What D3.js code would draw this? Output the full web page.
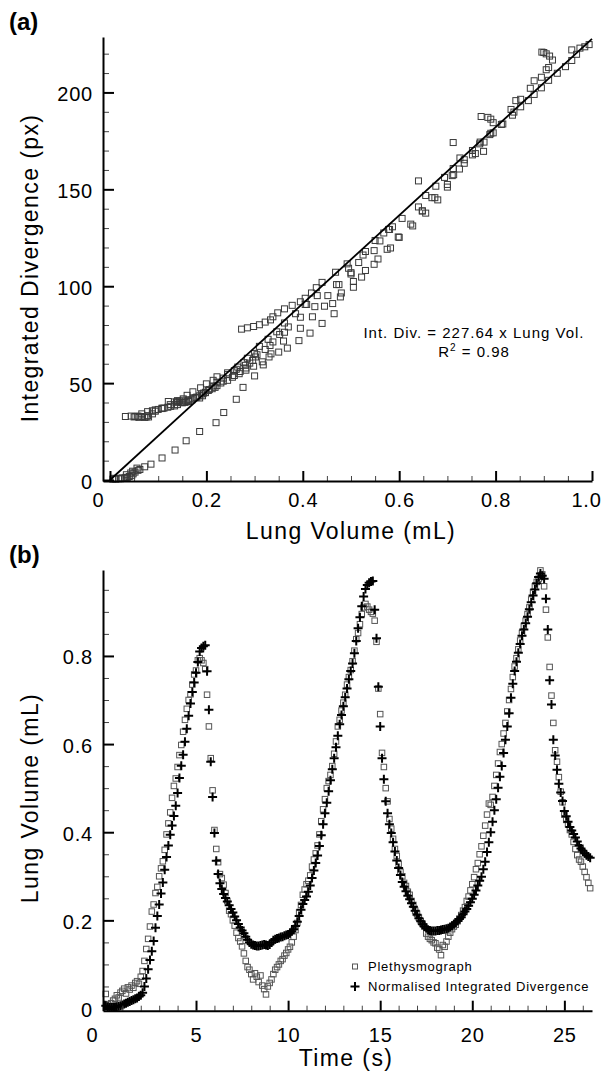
<!DOCTYPE html>
<html>
<head>
<meta charset="utf-8">
<script src="https://cdn.jsdelivr.net/npm/d3@7"></script>
<style>
  body { margin: 0; background: #fff; }
  svg { display: block; font-family: "Liberation Sans", Arial, Helvetica, sans-serif; }
</style>
</head>
<body>
<svg id="chart" width="602" height="1080"></svg>
<script>
// sample times (s), one row per second
const time = [
  0.1,0.2,0.3,0.4,0.5,0.6,0.7,0.8,0.9,1.0,
  1.1,1.2,1.3,1.4,1.5,1.6,1.7,1.8,1.9,2.0,
  2.1,2.2,2.3,2.4,2.5,2.6,2.7,2.8,2.9,3.0,
  3.1,3.2,3.3,3.4,3.5,3.6,3.7,3.8,3.9,4.0,
  4.1,4.2,4.3,4.4,4.5,4.6,4.7,4.8,4.9,5.0,
  5.1,5.2,5.3,5.4,5.5,5.6,5.7,5.8,5.9,6.0,
  6.1,6.2,6.3,6.4,6.5,6.6,6.7,6.8,6.9,7.0,
  7.1,7.2,7.3,7.4,7.5,7.6,7.7,7.8,7.9,8.0,
  8.1,8.2,8.3,8.4,8.5,8.6,8.7,8.8,8.9,9.0,
  9.1,9.2,9.3,9.4,9.5,9.6,9.7,9.8,9.9,10.0,
  10.1,10.2,10.3,10.4,10.5,10.6,10.7,10.8,10.9,11.0,
  11.1,11.2,11.3,11.4,11.5,11.6,11.7,11.8,11.9,12.0,
  12.1,12.2,12.3,12.4,12.5,12.6,12.7,12.8,12.9,13.0,
  13.1,13.2,13.3,13.4,13.5,13.6,13.7,13.8,13.9,14.0,
  14.1,14.2,14.3,14.4,14.5,14.6,14.7,14.8,14.9,15.0,
  15.1,15.2,15.3,15.4,15.5,15.6,15.7,15.8,15.9,16.0,
  16.1,16.2,16.3,16.4,16.5,16.6,16.7,16.8,16.9,17.0,
  17.1,17.2,17.3,17.4,17.5,17.6,17.7,17.8,17.9,18.0,
  18.1,18.2,18.3,18.4,18.5,18.6,18.7,18.8,18.9,19.0,
  19.1,19.2,19.3,19.4,19.5,19.6,19.7,19.8,19.9,20.0,
  20.1,20.2,20.3,20.4,20.5,20.6,20.7,20.8,20.9,21.0,
  21.1,21.2,21.3,21.4,21.5,21.6,21.7,21.8,21.9,22.0,
  22.1,22.2,22.3,22.4,22.5,22.6,22.7,22.8,22.9,23.0,
  23.1,23.2,23.3,23.4,23.5,23.6,23.7,23.8,23.9,24.0,
  24.1,24.2,24.3,24.4,24.5,24.6,24.7,24.8,24.9,25.0,
  25.1,25.2,25.3,25.4,25.5,25.6,25.7,25.8,25.9,26.0,
  26.1,26.2,26.3,26.4
]

// lung volume from the plethysmograph (mL)
const plethysmograph = [
  .033,.010,.006,.012,.018,.022,.030,.025,.036,.040,
  .045,.034,.048,.043,.052,.047,.058,.062,.056,.072,
  .085,.108,.135,.158,.186,.220,.236,.262,.276,.300,
  .318,.334,.360,.395,.420,.445,.478,.505,.522,.548,
  .575,.598,.628,.655,.680,.700,.713,.735,.758,.767,
  .790,.795,.790,.784,.770,.712,.640,.568,.495,.405,
  .362,.332,.305,.296,.281,.262,.244,.222,.214,.200,
  .188,.172,.160,.152,.141,.125,.108,.094,.088,.078,
  .066,.080,.072,.060,.075,.052,.044,.032,.050,.058,
  .066,.078,.088,.094,.100,.108,.112,.120,.126,.134,
  .140,.150,.163,.178,.194,.218,.235,.258,.270,.282,
  .290,.302,.322,.338,.352,.370,.395,.425,.452,.475,
  .500,.516,.530,.550,.578,.606,.640,.655,.676,.694,
  .712,.735,.752,.768,.788,.812,.838,.852,.872,.895,
  .910,.918,.912,.905,.900,.896,.880,.832,.726,.668,
  .580,.548,.500,.470,.430,.408,.385,.362,.346,.328,
  .310,.300,.285,.278,.265,.258,.244,.235,.222,.215,
  .206,.198,.192,.186,.170,.163,.158,.155,.150,.148,
  .138,.134,.121,.144,.140,.152,.163,.172,.180,.186,
  .190,.198,.204,.212,.222,.230,.244,.254,.268,.282,
  .298,.316,.330,.350,.368,.392,.415,.440,.465,.462,
  .480,.505,.530,.556,.582,.600,.624,.648,.674,.700,
  .725,.752,.776,.795,.815,.835,.852,.868,.880,.895,
  .910,.928,.945,.958,.968,.975,.994,.985,.958,.905,
  .842,.775,.710,.648,.586,.560,.525,.492,.468,.440,
  .428,.418,.405,.395,.378,.362,.348,.338,.333,.322,
  .310,.298,.285,.273
]

// integrated divergence normalised by the fit slope (mL)
const normIntDiv = [
  .006,.004,.002,.002,.003,.003,.004,.005,.006,.008,
  .010,.012,.014,.016,.018,.020,.022,.024,.027,.030,
  .036,.050,.068,.089,.110,.130,.153,.183,.210,.236,
  .261,.286,.315,.344,.370,.394,.415,.437,.460,.489,
  .523,.551,.576,.605,.635,.664,.692,.718,.740,.762,
  .786,.810,.818,.822,.824,.765,.678,.560,.480,.398,
  .335,.305,.284,.271,.260,.251,.243,.234,.226,.218,
  .209,.200,.192,.184,.177,.171,.163,.156,.150,.146,
  .144,.143,.142,.142,.143,.144,.145,.144,.143,.145,
  .150,.155,.157,.159,.160,.162,.163,.165,.167,.168,
  .171,.175,.180,.187,.197,.210,.224,.237,.246,.254,
  .265,.279,.296,.313,.330,.347,.369,.393,.418,.443,
  .467,.493,.518,.543,.568,.593,.619,.645,.666,.686,
  .706,.726,.747,.766,.783,.806,.834,.863,.888,.913,
  .935,.952,.961,.966,.969,.970,.905,.840,.730,.640,
  .568,.520,.470,.443,.418,.398,.377,.356,.336,.319,
  .303,.287,.276,.266,.256,.248,.239,.231,.222,.213,
  .205,.198,.191,.186,.182,.178,.177,.176,.176,.176,
  .177,.177,.178,.179,.180,.181,.182,.185,.188,.191,
  .195,.199,.203,.207,.214,.220,.226,.233,.241,.249,
  .258,.268,.279,.290,.299,.316,.333,.355,.377,.400,
  .424,.450,.475,.501,.526,.550,.580,.610,.640,.670,
  .705,.737,.766,.787,.807,.827,.846,.860,.874,.889,
  .906,.922,.937,.951,.965,.979,.987,.982,.975,.930,
  .860,.745,.690,.610,.574,.542,.510,.490,.471,.448,
  .436,.424,.412,.404,.396,.388,.379,.370,.363,.358,
  .352,.348,.345,.342
]

// linear fit shown in panel (a)
const fitSlope = 227.64
const fitR2 = 0.98
const fitVolumes = [0, 1.0]

// tick values
const volTicksA = [0, 0.2, 0.4, 0.6, 0.8, 1.0]
const divTicks = [0, 50, 100, 150, 200]
const timeTicks = [0, 5, 10, 15, 20, 25]
const volTicksB = [0, 0.2, 0.4, 0.6, 0.8]

const legendLabels = ["Plethysmograph", "Normalised Integrated Divergence"]

const svg = d3.select("#chart")

const fmtDec = d => d === 0 ? "0" : d3.format(".1f")(d)
const fmtInt = d3.format("d")

// inward-ticked axes in the Tecplot style
function drawAxes(x, y, o) {
  const yPos = y.range()[0]
  const xPos = x.range()[0]

  svg.append("g")
    .attr("transform", `translate(0,${yPos})`)
    .call(d3.axisBottom(x).tickValues(o.xMinor).tickSize(-5).tickSizeOuter(0).tickFormat(""))
    .call(g => g.select(".domain").remove())
    .selectAll("line").attr("stroke", "#444").attr("stroke-width", 1)

  svg.append("g")
    .call(d3.axisLeft(y).tickValues(o.yMinor).tickSize(-6).tickSizeOuter(0).tickFormat(""))
    .attr("transform", `translate(${xPos},0)`)
    .call(g => g.select(".domain").remove())
    .selectAll("line").attr("stroke", "#444").attr("stroke-width", 1)

  const gx = svg.append("g")
    .attr("transform", `translate(0,${yPos})`)
    .call(d3.axisBottom(x).tickValues(o.xTicks).tickSize(-10).tickSizeOuter(0)
      .tickPadding(o.xPad).tickFormat(o.xFmt))
  const gy = svg.append("g")
    .attr("transform", `translate(${xPos},0)`)
    .call(d3.axisLeft(y).tickValues(o.yTicks).tickSize(-11).tickSizeOuter(0)
      .tickPadding(10).tickFormat(o.yFmt))

  for (const g of [gx, gy]) {
    g.attr("font-size", null).attr("font-family", null)
    g.select(".domain").attr("stroke-width", 2)
    g.selectAll(".tick line").attr("stroke-width", 2)
    g.selectAll("text")
      .style("font-size", "20px")
      .style("letter-spacing", "0.8px")
  }
  gy.selectAll("text").attr("dy", "0.4em")
  // first x label sits left of its tick so it clears the y label
  gx.selectAll("text").filter(d => d === 0).attr("dx", -12)
  // last label pulled in so it stays on the page
  gx.selectAll("text").filter(d => d === o.xTicks[o.xTicks.length - 1] && x(d) > 585).attr("dx", -6)
}

function title(text, x, y, rotate) {
  svg.append("text")
    .attr("transform", `translate(${x},${y})` + (rotate ? " rotate(-90)" : ""))
    .attr("text-anchor", "middle")
    .style("font-size", "23px")
    .style("letter-spacing", "1.4px")
    .text(text)
}

function squares(sel, data, cx, cy, size, color) {
  sel.selectAll(null)
    .data(data)
    .enter().append("rect")
    .attr("x", d => cx(d) - size / 2)
    .attr("y", d => cy(d) - size / 2)
    .attr("width", size)
    .attr("height", size)
    .attr("fill", "none")
    .attr("stroke", color)
    .attr("stroke-width", 1)
}

const plusPath = "M-4.5,0H4.5M0,-4.5V4.5"

// ---------- panel (a) ----------
const xA = d3.scaleLinear().domain([-0.0145, 1.0]).range([103, 592])
const yA = d3.scaleLinear().domain([-0.5, 228.6]).range([481, 37])

const scatterA = time.map((t, i) => ({ vol: plethysmograph[i], div: normIntDiv[i] * fitSlope }))

squares(svg.append("g"), scatterA, d => xA(d.vol), d => yA(d.div), 6, "#3a3a3a")

svg.append("path")
  .datum(fitVolumes)
  .attr("fill", "none")
  .attr("stroke", "#000")
  .attr("stroke-width", 1.8)
  .attr("d", d3.line().x(d => xA(d)).y(d => yA(d * fitSlope)))

drawAxes(xA, yA, {
  xTicks: volTicksA, xMinor: d3.range(0, 1.0001, 0.05).filter(v => Math.abs(v * 5 - Math.round(v * 5)) > 1e-6),
  yTicks: divTicks, yMinor: d3.range(0, 221, 10).filter(v => v % 50),
  xFmt: fmtDec, yFmt: fmtInt, xPad: 12
})

const note = svg.append("g").attr("text-anchor", "middle")
  .style("font-size", "15px").style("letter-spacing", "1px")
note.append("text").attr("x", 474).attr("y", 338)
  .text(`Int. Div. = ${fitSlope} x Lung Vol.`)
const r2 = note.append("text").attr("x", 474).attr("y", 357)
r2.append("tspan").text("R")
r2.append("tspan").attr("dy", -6).style("font-size", "10px").text("2")
r2.append("tspan").attr("dy", 6).text(` = ${fitR2}`)

title("Integrated Divergence (px)", 38, 268, true)
title("Lung Volume (mL)", 351, 539)

svg.append("text").attr("x", 9).attr("y", 30)
  .style("font-size", "24px").style("font-weight", "bold").text("(a)")

// ---------- panel (b) ----------
const xB = d3.scaleLinear().domain([-0.05, 26.5]).range([103, 592])
const yB = d3.scaleLinear().domain([-0.005, 0.995]).range([1010.7, 570])

const seriesB = time.map((t, i) => ({ t, pleth: plethysmograph[i], nid: normIntDiv[i] }))

squares(svg.append("g"), seriesB, d => xB(d.t), d => yB(d.pleth), 5.5, "#555")

svg.append("g").selectAll("path")
  .data(seriesB)
  .enter().append("path")
  .attr("transform", d => `translate(${xB(d.t)},${yB(d.nid)})`)
  .attr("d", plusPath)
  .attr("stroke", "#000")
  .attr("stroke-width", 2)

drawAxes(xB, yB, {
  xTicks: timeTicks, xMinor: d3.range(0, 27, 1).filter(v => v % 5),
  yTicks: volTicksB, yMinor: d3.range(0, 0.96, 0.05).filter(v => Math.abs(v * 5 - Math.round(v * 5)) > 1e-6),
  xFmt: fmtInt, yFmt: fmtDec, xPad: 17
})

title("Lung Volume (mL)", 38, 798, true)
title("Time (s)", 346, 1066)

svg.append("text").attr("x", 9).attr("y", 563)
  .style("font-size", "24px").style("font-weight", "bold").text("(b)")

// legend
const legend = svg.append("g").style("font-size", "13px").style("letter-spacing", "0.75px")
legend.append("rect").attr("x", 352.5).attr("y", 964).attr("width", 5).attr("height", 5)
  .attr("fill", "none").attr("stroke", "#555")
legend.append("path").attr("transform", "translate(355,986.5)").attr("d", plusPath)
  .attr("stroke", "#000").attr("stroke-width", 2)
legend.selectAll(null)
  .data(legendLabels)
  .enter().append("text")
  .attr("x", 368)
  .attr("y", (d, i) => 971 + i * 20)
  .text(d => d)
</script>
</body>
</html>
